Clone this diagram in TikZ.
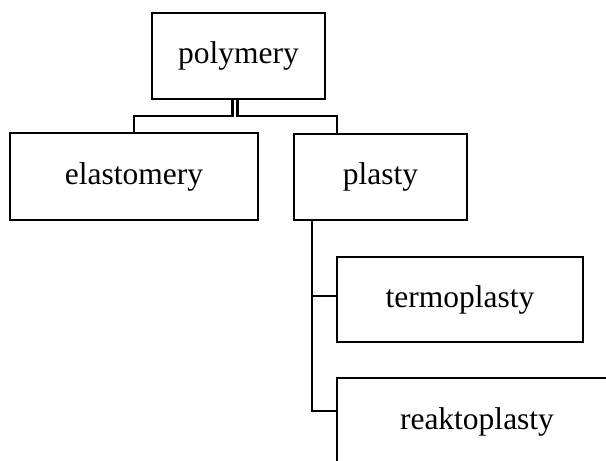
\documentclass[tikz,border=0pt]{standalone}
\usepackage{fontspec}
\setmainfont{Liberation Serif}
\begin{document}
\begin{tikzpicture}[x=1pt,y=-1pt,
  box/.style={draw=black, line width=2.4pt, rectangle, inner sep=0pt, fill=white,
    font=\fontsize{31.5}{36}\selectfont},
  link/.style={draw=black, line width=2.4pt}]
\useasboundingbox (0,0) rectangle (606,461);
\clip (0,0) rectangle (606,461);
\node[box, minimum width=173pt, minimum height=86pt] (poly) at (238.5,56) {polymery};
\node[box, minimum width=248pt, minimum height=87pt] (elas) at (134,176.5) {elastomery};
\node[box, minimum width=173pt, minimum height=86pt] (plas) at (380.5,177) {plasty};
\node[box, minimum width=246pt, minimum height=85pt] (term) at (460,299.5) {termoplasty};
\node[box, minimum width=280pt, minimum height=87pt] (reak) at (477,421.5) {reaktoplasty};
\draw[link] ([xshift=-6pt]poly.south) -- ++(0,16) -| (elas.north);
\draw[link] ([xshift=-1.2pt]poly.south) -- ++(0,16) -| ([xshift=-43.5pt]plas.north);
\draw[link] ([xshift=-68.5pt]plas.south) |- ([yshift=10.5pt]reak.west);
\draw[link] ([xshift=-68.5pt]plas.south) |- ([yshift=3.5pt]term.west);
\end{tikzpicture}
\end{document}
